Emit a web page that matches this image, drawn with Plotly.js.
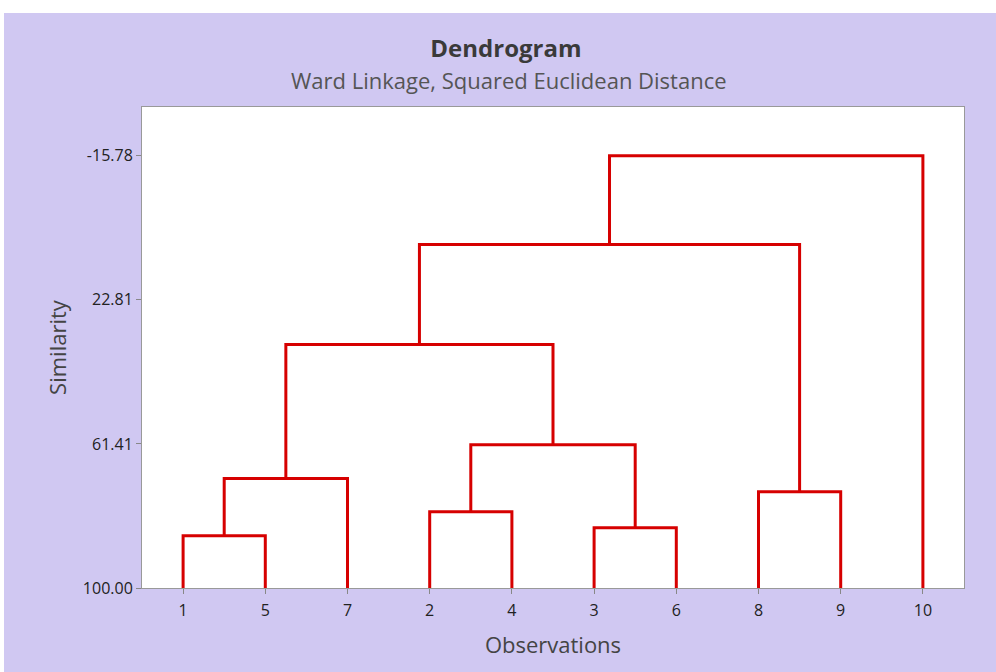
<!DOCTYPE html>
<html>
<head>
<meta charset="utf-8">
<script src="https://cdn.plot.ly/plotly-3.0.1.min.js"></script>
<style>
  html, body { margin: 0; padding: 0; background: #ffffff; width: 996px; height: 672px; overflow: hidden; }
  #chart { position: absolute; left: 4px; top: 13px; width: 992px; height: 659px; }
</style>
</head>
<body>
<div id="chart"></div>
<script>
// Leaf order along the x axis (observation labels)
const leafOrder = ['1', '5', '7', '2', '4', '3', '6', '8', '9', '10'];
// Merge steps: left cluster, right cluster, similarity level at which they join
// Leaves are referenced by label, merged clusters by 'c' + step index
const mergeLeft  = ['1',  'c0', '2',  '3',  'c2', 'c1', '8',  'c5', 'c7'];
const mergeRight = ['5',  '7',  '4',  '6',  'c3', 'c4', '9',  'c6', '10'];
const mergeSim   = [86.0, 70.7, 79.6, 83.85, 61.6, 34.8, 74.2, 8.0, -15.78];
// Y-axis tick values and labels
const yTickVals = [-15.78, 22.81, 61.41, 100.00];
const yTickText = ['-15.78', '22.81', '61.41', '100.00'];

const pos = {}, height = {};
leafOrder.forEach((lab, i) => { pos[lab] = i + 1; height[lab] = 100; });

const traces = [];
for (let i = 0; i < mergeSim.length; i++) {
  const a = mergeLeft[i], b = mergeRight[i], h = mergeSim[i];
  traces.push({
    type: 'scatter', mode: 'lines',
    x: [pos[a], pos[a], pos[b], pos[b]],
    y: [height[a], h, h, height[b]],
    line: { color: 'rgb(214,0,0)', width: 3, shape: 'linear' },
    hoverinfo: 'skip', showlegend: false
  });
  const id = 'c' + i;
  pos[id] = (pos[a] + pos[b]) / 2;
  height[id] = h;
}

const fontFam = '"Open Sans", "Noto Sans", sans-serif';
const layout = {
  width: 992, height: 659,
  paper_bgcolor: '#D0C8F2',
  plot_bgcolor: '#ffffff',
  margin: { l: 138, r: 32, t: 94, b: 84, pad: 0 },
  font: { family: fontFam, color: '#333333' },
  showlegend: false,
  title: {
    text: '<b>Dendrogram</b>',
    font: { family: fontFam, size: 24, color: '#3a3a3a' },
    x: 0.506, xref: 'container', xanchor: 'center',
    y: 1 - 36 / 659, yref: 'container', yanchor: 'middle'
  },
  annotations: [{
    text: 'Ward Linkage, Squared Euclidean Distance',
    xref: 'paper', yref: 'paper',
    x: 0.447, y: 1 + 27 / 481, xanchor: 'center', yanchor: 'middle',
    showarrow: false,
    font: { family: fontFam, size: 22, color: '#555555' }
  }],
  xaxis: {
    range: [0.5, 10.5],
    tickmode: 'array',
    tickvals: leafOrder.map((_, i) => i + 1),
    ticktext: leafOrder,
    ticks: 'outside', ticklen: 5, tickwidth: 1, tickcolor: '#888888',
    ticklabelstandoff: 3,
    tickfont: { family: fontFam, size: 16, color: '#222222' },
    showgrid: false, zeroline: false,
    showline: true, mirror: true, linecolor: '#999999', linewidth: 1,
    title: { text: 'Observations', font: { family: fontFam, size: 22, color: '#444444' }, standoff: 17 }
  },
  yaxis: {
    range: [100, -28.83],
    tickmode: 'array',
    tickvals: yTickVals,
    ticktext: yTickText,
    ticks: 'outside', ticklen: 5, tickwidth: 1, tickcolor: '#888888',
    tickfont: { family: fontFam, size: 16, color: '#222222' },
    showgrid: false, zeroline: false,
    showline: true, mirror: true, linecolor: '#999999', linewidth: 1,
    title: { text: 'Similarity', font: { family: fontFam, size: 22, color: '#444444' }, standoff: 10 }
  }
};

Plotly.newPlot('chart', traces, layout, { displayModeBar: false, staticPlot: true });
</script>
</body>
</html>
